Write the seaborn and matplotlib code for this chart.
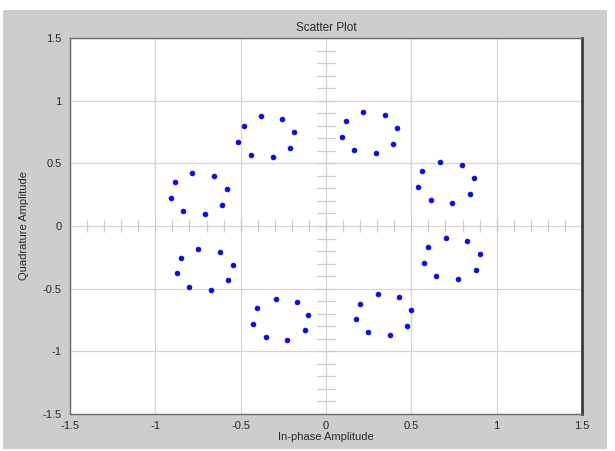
import numpy as np
import pandas as pd
import matplotlib
matplotlib.use("Agg")
import matplotlib.pyplot as plt
from matplotlib.patches import Rectangle
import seaborn as sns

# Received 8-PSK symbols: eight points per constellation cluster
in_phase = [
    # 112.5 deg
    -0.381, -0.258, -0.186, -0.209, -0.310, -0.438, -0.514, -0.482,
    # 157.5 deg
    -0.783, -0.654, -0.582, -0.607, -0.711, -0.836, -0.910, -0.886,
    # 67.5 deg
    0.219, 0.346, 0.416, 0.393, 0.291, 0.162, 0.092, 0.115,
    # 22.5 deg
    0.668, 0.795, 0.865, 0.844, 0.738, 0.613, 0.539, 0.562,
    # -22.5 deg
    0.701, 0.826, 0.900, 0.879, 0.775, 0.646, 0.576, 0.599,
    # -67.5 deg
    0.303, 0.428, 0.500, 0.476, 0.373, 0.248, 0.176, 0.199,
    # -157.5 deg
    -0.748, -0.623, -0.547, -0.572, -0.674, -0.801, -0.875, -0.849,
    # -112.5 deg
    -0.295, -0.170, -0.105, -0.121, -0.230, -0.353, -0.428, -0.402,
]
quadrature = [
    0.878, 0.856, 0.750, 0.620, 0.548, 0.569, 0.670, 0.800,
    0.425, 0.401, 0.293, 0.170, 0.098, 0.120, 0.226, 0.351,
    0.910, 0.888, 0.782, 0.657, 0.585, 0.607, 0.713, 0.838,
    0.511, 0.484, 0.381, 0.258, 0.184, 0.208, 0.311, 0.439,
    -0.093, -0.117, -0.221, -0.349, -0.425, -0.397, -0.293, -0.168,
    -0.545, -0.569, -0.673, -0.800, -0.872, -0.848, -0.745, -0.620,
    -0.181, -0.205, -0.309, -0.434, -0.508, -0.484, -0.378, -0.253,
    -0.583, -0.604, -0.710, -0.832, -0.910, -0.883, -0.785, -0.654,
]
axis_ticks = [-1.5, -1, -0.5, 0, 0.5, 1, 1.5]
tick_labels = ["-1.5", "-1", "-0.5", "0", "0.5", "1", "1.5"]

df = pd.DataFrame({"I": in_phase, "Q": quadrature})

sns.set_theme(style="white")
plt.rcParams["font.family"] = ["Liberation Sans", "DejaVu Sans"]

fig = plt.figure(figsize=(6.15, 4.51), dpi=100)
fig.patch.set_facecolor("white")
W, H = 615, 451
# grey window panel behind the axes
fig.patches.append(Rectangle((3 / W, 1 - 449 / H), 604 / W, 439 / H,
                             transform=fig.transFigure, facecolor="#cdcdcd",
                             edgecolor="none", zorder=-10))

ax = fig.add_axes([70 / W, 1 - 414 / H, 512 / W, 376 / H])
ax.set_facecolor("white")

# centre cross with minor ticks every 0.1
minor = np.round(np.arange(-1.4, 1.41, 0.1), 2)
ax.vlines(minor, -0.05, 0.05, color="#cbcbcb", lw=0.9, zorder=1)
ax.hlines(minor, -0.05, 0.05, color="#cbcbcb", lw=0.9, zorder=1)

sns.scatterplot(data=df, x="I", y="Q", ax=ax, color="#0d0dd6",
                s=11, edgecolor="#0d0dd6", linewidth=0.7, zorder=3)

ax.set_xlim(-1.5, 1.5)
ax.set_ylim(-1.5, 1.5)
ax.set_xticks(axis_ticks)
ax.set_xticklabels(tick_labels)
ax.set_yticks(axis_ticks)
ax.set_yticklabels(tick_labels)
ax.grid(True, color="#d6d6d6", lw=0.9)
ax.set_axisbelow(True)
ax.tick_params(length=0, labelsize=8, labelcolor="#2a2a2a")
ax.tick_params(axis="x", pad=5)
ax.tick_params(axis="y", pad=6)

for side in ["left", "bottom", "top"]:
    ax.spines[side].set_color("#6a6a6a")
    ax.spines[side].set_linewidth(1.0)
ax.spines["right"].set_color("#3c3c3c")
ax.spines["right"].set_linewidth(2.0)

ax.set_title("Scatter Plot", fontsize=8.5, color="#2a2a2a", pad=5)
ax.set_xlabel("In-phase Amplitude", fontsize=8, color="#2a2a2a", labelpad=1)
ax.set_ylabel("Quadrature Amplitude", fontsize=8, color="#2a2a2a", labelpad=10)

fig.savefig("out.png", dpi=100, facecolor=fig.get_facecolor())
